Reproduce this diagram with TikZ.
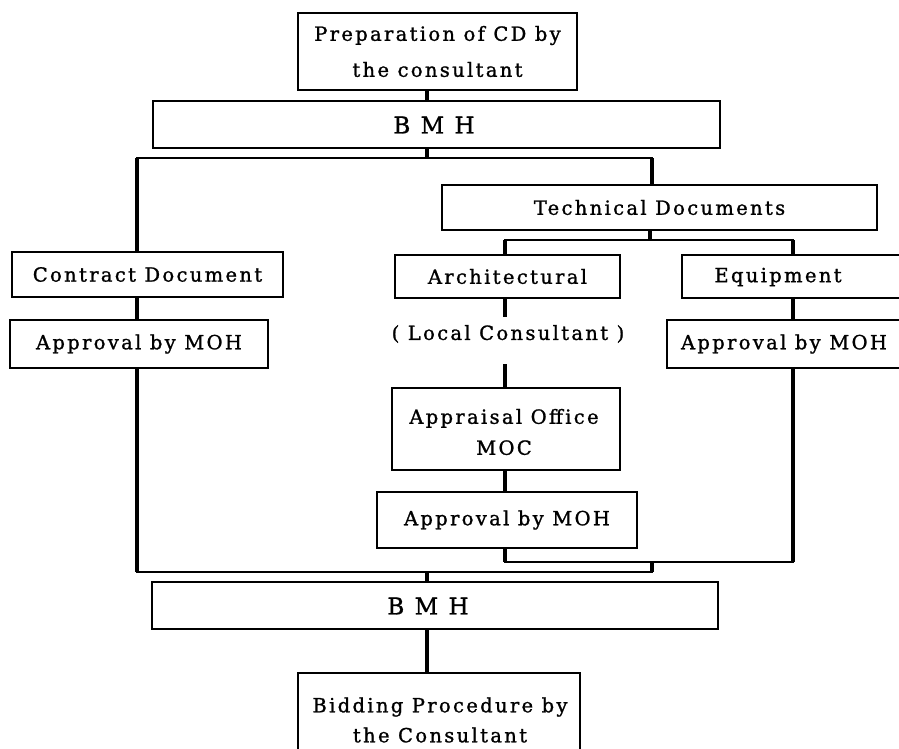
\documentclass[tikz,border=0pt]{standalone}
\usepackage{fontspec}
\setmainfont{DejaVu Serif}[LetterSpace=12, FakeBold=1.2]
\newcommand{\chartfont}{\fontsize{19.5}{36}\selectfont}
\newcommand{\bmh}{{\fontsize{23}{28}\selectfont B\hspace{0.45em}M\hspace{0.45em}H}}
\begin{document}
\begin{tikzpicture}[x=1pt,y=-1pt,
  box/.style={draw, line width=1.7pt, rectangle, inner sep=0pt, align=center, font=\chartfont},
  txt/.style={inner sep=0pt, align=center, font=\chartfont},
  vline/.style={line width=3.6pt},
  hline/.style={line width=1.7pt, line cap=rect}]
\useasboundingbox (0,0) rectangle (899,748);
\fill[white] (0,0) rectangle (899,748);
\clip (0,0) rectangle (899,748);

% boxes
\node[box, minimum width=279pt, minimum height=77pt] (prep) at (437.5,51.5) {Preparation of CD by\\the consultant};
\node[box, minimum width=567pt, minimum height=47pt] (bmhA) at (436.5,124.5) {};
\node[txt] (bmhAtxt) at (434,125) {\bmh};
\node[box, minimum width=435pt, minimum height=45pt] (tech) at (659.5,207.5) {Technical Documents};
\node[box, minimum width=271pt, minimum height=45pt] (contract) at (147.5,274.5) {Contract Document};
\node[box, minimum width=225pt, minimum height=43pt] (arch) at (507.5,276.5) {Architectural};
\node[box, minimum width=228pt, minimum height=43pt] (equip) at (796,276.5) {};
\node[txt] (equiptxt) at (778,277) {Equipment};
\node[box, minimum width=258pt, minimum height=48pt] (apprL) at (139,344) {Approval by MOH};
\node[box, minimum width=258pt, minimum height=48pt] (apprR) at (796,344) {};
\node[txt] (apprRtxt) at (784,344) {Approval by MOH};
\node[txt] (local) at (508,334) {( Local Consultant )};
\node[box, minimum width=228pt, minimum height=82pt] (office) at (506,429) {};
\node[txt, font=\fontsize{19.5}{31}\selectfont] (officetxt) at (504,432) {Appraisal Office\\MOC};
\node[box, minimum width=260pt, minimum height=56pt] (apprM) at (507,520) {Approval by MOH};
\node[box, minimum width=566pt, minimum height=47pt] (bmhB) at (435,605.5) {};
\node[txt] (bmhBtxt) at (428,606) {\bmh};
\node[box, minimum width=282pt, minimum height=97pt] (bid) at (439,721.5) {};
\node[txt, font=\fontsize{19.5}{30}\selectfont] (bidtxt) at (440,720) {Bidding Procedure by\\the Consultant};

% junction points
\coordinate (j0) at (427,158);
\coordinate (bl) at (137,158);
\coordinate (br) at (652,158);
\coordinate (t0) at (650,240);
\coordinate (tl) at (505,240);
\coordinate (tr) at (793,240);
\coordinate (s1) at (505,317);
\coordinate (s2) at (505,364);
\coordinate (k1) at (505,562);
\coordinate (k2) at (793,562);
\coordinate (k3) at (652,562);
\coordinate (m1) at (137,572);
\coordinate (m2) at (652,572);
\coordinate (m3) at (427,572);

% top part
\draw[vline] (prep.south -| j0) -- (bmhA.north -| j0);
\draw[vline] (bmhA.south -| j0) -- (j0);
\draw[hline] (bl) -- (br);
\draw[vline] (bl) -- (contract.north -| bl);
\draw[vline] (br) -- (tech.north -| br);
\draw[vline] (tech.south -| t0) -- (t0);
\draw[hline] (tl) -- (tr);
\draw[vline] (tl) -- (arch.north -| tl);
\draw[vline] (tr) -- (equip.north -| tr);

% left column
\draw[vline] (contract.south -| bl) -- (apprL.north -| bl);
\draw[vline] (apprL.south -| bl) -- (m1);

% middle column
\draw[vline] (arch.south -| tl) -- (s1);
\draw[vline] (s2) -- (office.north -| s2);
\draw[vline] (office.south -| s2) -- (apprM.north -| s2);
\draw[vline] (apprM.south -| k1) -- (k1);

% right column
\draw[vline] (equip.south -| tr) -- (apprR.north -| tr);
\draw[vline] (apprR.south -| k2) -- (k2);

% merging lines
\draw[hline] (k1) -- (k2);
\draw[vline] (k3) -- (m2);
\draw[hline] (m1) -- (m2);
\draw[vline] (m3) -- (bmhB.north -| m3);
\draw[vline] (bmhB.south -| m3) -- (bid.north -| m3);
\end{tikzpicture}
\end{document}
